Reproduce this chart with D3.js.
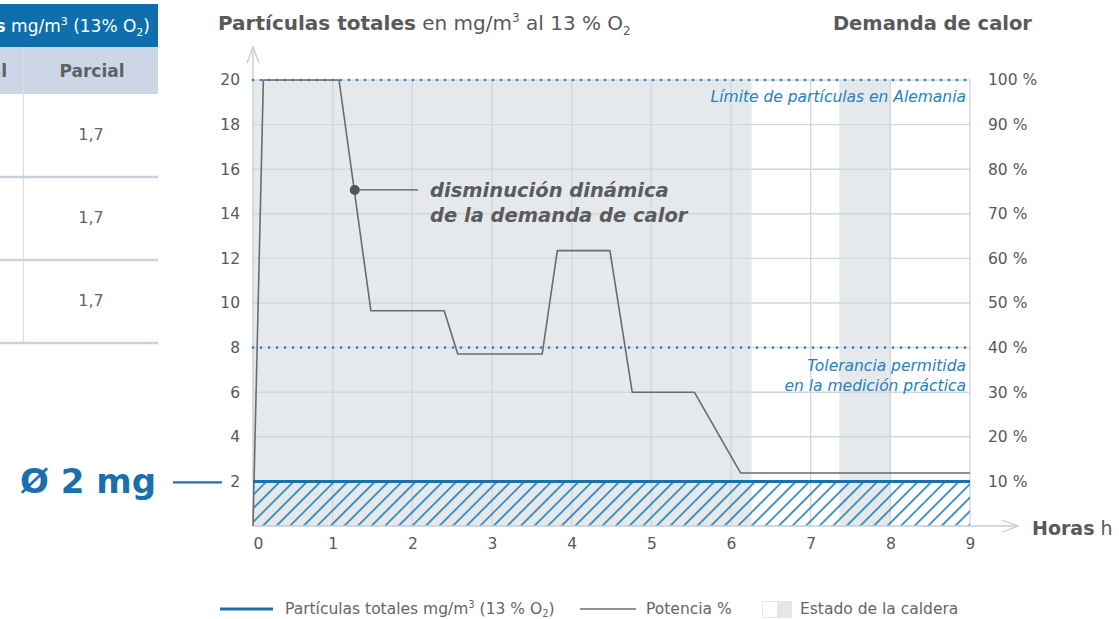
<!DOCTYPE html>
<html>
<head>
<meta charset="utf-8">
<script src="https://cdn.jsdelivr.net/npm/d3@7"></script>
<style>
  body { margin: 0; background: #fff; }
  svg { display: block; font-family: "DejaVu Sans", sans-serif; }
</style>
</head>
<body>
<div id="chart"></div>
<script>
// data
const hours = [0, 1, 2, 3, 4, 5, 6, 7, 8, 9];
const particleTicks = [2, 4, 6, 8, 10, 12, 14, 16, 18, 20];
const demandTicks = [10, 20, 30, 40, 50, 60, 70, 80, 90, 100];
const potenciaH = [0, 0.13, 1.08, 1.48, 2.40, 2.57, 3.63, 3.82, 4.48, 4.76, 5.54, 6.12, 9];
const potenciaV = [0, 20, 20, 9.65, 9.65, 7.71, 7.71, 12.35, 12.35, 6.0, 6.0, 2.38, 2.38];
const particulasH = [0, 9];
const particulasV = [2, 2];
const calderaOn = [[0, 6.26], [7.36, 8.0]];
const limiteAlemania = 20;
const tolerancia = 8;
const tableValues = ["1,7", "1,7", "1,7"];

const W = 1119, H = 619;
const svg = d3.select("#chart").append("svg").attr("width", W).attr("height", H);

const x = d3.scaleLinear().domain([0, 9]).range([253, 970]);
const y = d3.scaleLinear().domain([0, 20]).range([526, 80]);
const y2 = d3.scaleLinear().domain([0, 100]).range([526, 80]);

const grey = "#58595b", blue = "#1a70ac", lightBlue = "#2383bf", gridC = "#d1d7dd";

// hatch pattern
const defs = svg.append("defs");
const pat = defs.append("pattern").attr("id", "hatch")
  .attr("patternUnits", "userSpaceOnUse").attr("width", 9.6).attr("height", 9.6)
  .attr("patternTransform", "rotate(45)");
pat.append("line").attr("x1", 0.9).attr("y1", 0).attr("x2", 0.9).attr("y2", 9.6)
  .attr("stroke", "#1f7bb9").attr("stroke-width", 1.6);

// ---- left table fragment
const tbl = svg.append("g");
tbl.append("rect").attr("x", 0).attr("y", 4).attr("width", 158).attr("height", 43).attr("fill", "#0f6fad");
const ht = tbl.append("text").attr("x", 150).attr("y", 32).attr("text-anchor", "end")
  .attr("fill", "#fff").attr("font-size", 17);
ht.append("tspan").attr("font-weight", "bold").text("Partículas totales");
ht.append("tspan").text(" mg/m");
ht.append("tspan").attr("font-size", 11).attr("dy", -7).text("3");
ht.append("tspan").attr("dy", 7).text(" (13% O");
ht.append("tspan").attr("font-size", 11).attr("dy", 4).text("2");
ht.append("tspan").attr("dy", -4).text(")");
tbl.append("rect").attr("x", 0).attr("y", 47).attr("width", 158).attr("height", 47).attr("fill", "#cdd6e6");
tbl.append("text").attr("x", 7).attr("y", 77).attr("text-anchor", "end").attr("font-weight", "bold")
  .attr("font-size", 17).attr("fill", "#5e6166").text("Total");
tbl.append("text").attr("x", 92).attr("y", 77).attr("text-anchor", "middle").attr("font-weight", "bold")
  .attr("font-size", 17).attr("fill", "#5e6166").text("Parcial");
tbl.append("line").attr("x1", 23.5).attr("x2", 23.5).attr("y1", 47).attr("y2", 343)
  .attr("stroke", "#d6dde5").attr("stroke-width", 1.2);
tableValues.forEach((v, i) => {
  const y0 = 94 + i * 83;
  tbl.append("line").attr("x1", 0).attr("x2", 158).attr("y1", y0 + 83).attr("y2", y0 + 83)
    .attr("stroke", "#c9d1da").attr("stroke-width", 2.5);
  tbl.append("text").attr("x", 91).attr("y", y0 + 46).attr("text-anchor", "middle")
    .attr("font-size", 16).attr("fill", "#666").text(v);
});

// ---- plot background (boiler state)
const g = svg.append("g");
g.selectAll("rect.caldera").data(calderaOn).enter().append("rect")
  .attr("class", "caldera")
  .attr("x", d => x(d[0])).attr("width", d => x(d[1]) - x(d[0]))
  .attr("y", y(20)).attr("height", y(0) - y(20))
  .attr("fill", "#e6e9ec");

// grid
g.selectAll("line.vg").data(hours.slice(1)).enter().append("line")
  .attr("x1", d => x(d)).attr("x2", d => x(d)).attr("y1", y(20)).attr("y2", y(0))
  .attr("stroke", gridC).attr("stroke-width", 1.4);
g.selectAll("line.hg").data(particleTicks).enter().append("line")
  .attr("x1", x(0)).attr("x2", x(9)).attr("y1", d => y(d)).attr("y2", d => y(d))
  .attr("stroke", gridC).attr("stroke-width", 1.4);

// hatched area under particle line
const area = d3.area().x((d, i) => x(particulasH[i])).y0(y(0)).y1(d => y(d));
g.append("path").datum(particulasV).attr("d", area).attr("fill", "url(#hatch)");

// axes lines with arrows
const axC = "#c5ccd4";
g.append("line").attr("x1", x(0)).attr("x2", x(0)).attr("y1", y(0)).attr("y2", 47)
  .attr("stroke", axC).attr("stroke-width", 1.3);
g.append("path").attr("d", `M${x(0) - 6},${63} L${x(0)},${47} L${x(0) + 6},${63}`)
  .attr("fill", "none").attr("stroke", axC).attr("stroke-width", 1.3);
g.append("line").attr("x1", x(0)).attr("x2", 1018).attr("y1", y(0)).attr("y2", y(0))
  .attr("stroke", axC).attr("stroke-width", 1.3);
g.append("path").attr("d", `M1002,${y(0) - 6} L1018,${y(0)} L1002,${y(0) + 6}`)
  .attr("fill", "none").attr("stroke", axC).attr("stroke-width", 1.3);

// dotted limit lines
[limiteAlemania, tolerancia].forEach(v => {
  g.append("line").attr("x1", x(0)).attr("x2", x(9)).attr("y1", y(v)).attr("y2", y(v))
    .attr("stroke", lightBlue).attr("stroke-width", 2.6)
    .attr("stroke-dasharray", "0 8").attr("stroke-linecap", "round");
});

// potencia line
const line = d3.line().x((d, i) => x(potenciaH[i])).y(d => y(d));
g.append("path").datum(potenciaV).attr("d", line)
  .attr("fill", "none").attr("stroke", "#6a6b6d").attr("stroke-width", 1.6)
  .attr("stroke-linejoin", "round");

// particle line
const pline = d3.line().x((d, i) => x(particulasH[i])).y(d => y(d));
g.append("path").datum(particulasV).attr("d", pline)
  .attr("fill", "none").attr("stroke", blue).attr("stroke-width", 3);

// axis labels
const yAxis = d3.axisLeft(y).tickValues(particleTicks).tickSize(0).tickPadding(13);
const ya = svg.append("g").attr("transform", `translate(${x(0)},0)`).call(yAxis);
const y2Axis = d3.axisRight(y2).tickValues(demandTicks).tickSize(0).tickPadding(18)
  .tickFormat(d => d + " %");
const ya2 = svg.append("g").attr("transform", `translate(${x(9)},0)`).call(y2Axis);
const xAxis = d3.axisBottom(x).tickValues(hours).tickSize(0).tickPadding(12);
const xa = svg.append("g").attr("transform", `translate(0,${y(0)})`).call(xAxis);
[ya, ya2, xa].forEach(a => {
  a.select(".domain").remove();
  a.selectAll("text").attr("font-size", 15.5).attr("fill", grey).attr("font-family", "DejaVu Sans");
});
xa.selectAll("text").filter(d => d === 0).attr("dx", 5);

// titles
const t1 = svg.append("text").attr("x", 218).attr("y", 30).attr("font-size", 20).attr("fill", grey);
t1.append("tspan").attr("font-weight", "bold").text("Partículas totales");
t1.append("tspan").text(" en mg/m");
t1.append("tspan").attr("font-size", 12).attr("dy", -8).text("3");
t1.append("tspan").attr("dy", 8).text(" al 13 % O");
t1.append("tspan").attr("font-size", 12).attr("dy", 5).text("2");
svg.append("text").attr("x", 1032).attr("y", 30).attr("text-anchor", "end")
  .attr("font-size", 19.5).attr("font-weight", "bold").attr("fill", grey).text("Demanda de calor");
const th = svg.append("text").attr("x", 1032).attr("y", 535).attr("font-size", 19).attr("fill", grey);
th.append("tspan").attr("font-weight", "bold").text("Horas");
th.append("tspan").text(" h");

// limit notes
const noteStyle = s => s.attr("text-anchor", "end").attr("font-size", 15.5)
  .attr("font-style", "italic").attr("fill", lightBlue);
svg.append("text").attr("x", 966).attr("y", 102).call(noteStyle).text("Límite de partículas en Alemania");
svg.append("text").attr("x", 966).attr("y", y(tolerancia) + 23).call(noteStyle).text("Tolerancia permitida");
svg.append("text").attr("x", 966).attr("y", y(tolerancia) + 43).call(noteStyle).text("en la medición práctica");

// annotation
const ax = x(1.277), ay = y(15.07);
svg.append("line").attr("x1", ax).attr("x2", 418).attr("y1", ay).attr("y2", ay)
  .attr("stroke", "#555").attr("stroke-width", 1.2);
svg.append("circle").attr("cx", ax).attr("cy", ay).attr("r", 5).attr("fill", "#555");
svg.append("text").attr("x", 430).attr("y", 197).attr("font-size", 19.5).attr("font-weight", "bold")
  .attr("font-style", "italic").attr("fill", "#5a5b5d").text("disminución dinámica");
svg.append("text").attr("x", 430).attr("y", 222).attr("font-size", 19.5).attr("font-weight", "bold")
  .attr("font-style", "italic").attr("fill", "#5a5b5d").text("de la demanda de calor");

// Ø 2 mg marker
svg.append("text").attr("x", 20).attr("y", 493).attr("font-size", 34).attr("font-weight", "bold")
  .attr("fill", blue).text("Ø 2 mg");
svg.append("line").attr("x1", 173).attr("x2", 222).attr("y1", y(2) + 1).attr("y2", y(2) + 1)
  .attr("stroke", blue).attr("stroke-width", 2.2);

// legend
const lg = svg.append("g").attr("font-size", 15.5).attr("fill", "#666");
lg.append("line").attr("x1", 220).attr("x2", 273).attr("y1", 609).attr("y2", 609)
  .attr("stroke", blue).attr("stroke-width", 3);
const l1 = lg.append("text").attr("x", 285).attr("y", 614);
l1.append("tspan").text("Partículas totales mg/m");
l1.append("tspan").attr("font-size", 10).attr("dy", -6).text("3");
l1.append("tspan").attr("dy", 6).text(" (13 % O");
l1.append("tspan").attr("font-size", 10).attr("dy", 3).text("2");
l1.append("tspan").attr("dy", -3).text(")");
lg.append("line").attr("x1", 580).attr("x2", 636).attr("y1", 609).attr("y2", 609)
  .attr("stroke", "#6a6b6d").attr("stroke-width", 1.4);
lg.append("text").attr("x", 646).attr("y", 614).text("Potencia %");
lg.append("rect").attr("x", 762.5).attr("y", 601.5).attr("width", 29).attr("height", 16)
  .attr("fill", "#e3e6ea").attr("stroke", "#e3e6ea");
lg.append("rect").attr("x", 763).attr("y", 602).attr("width", 14).attr("height", 15).attr("fill", "#ffffff");
lg.append("text").attr("x", 800).attr("y", 614).text("Estado de la caldera");
</script>
</body>
</html>
